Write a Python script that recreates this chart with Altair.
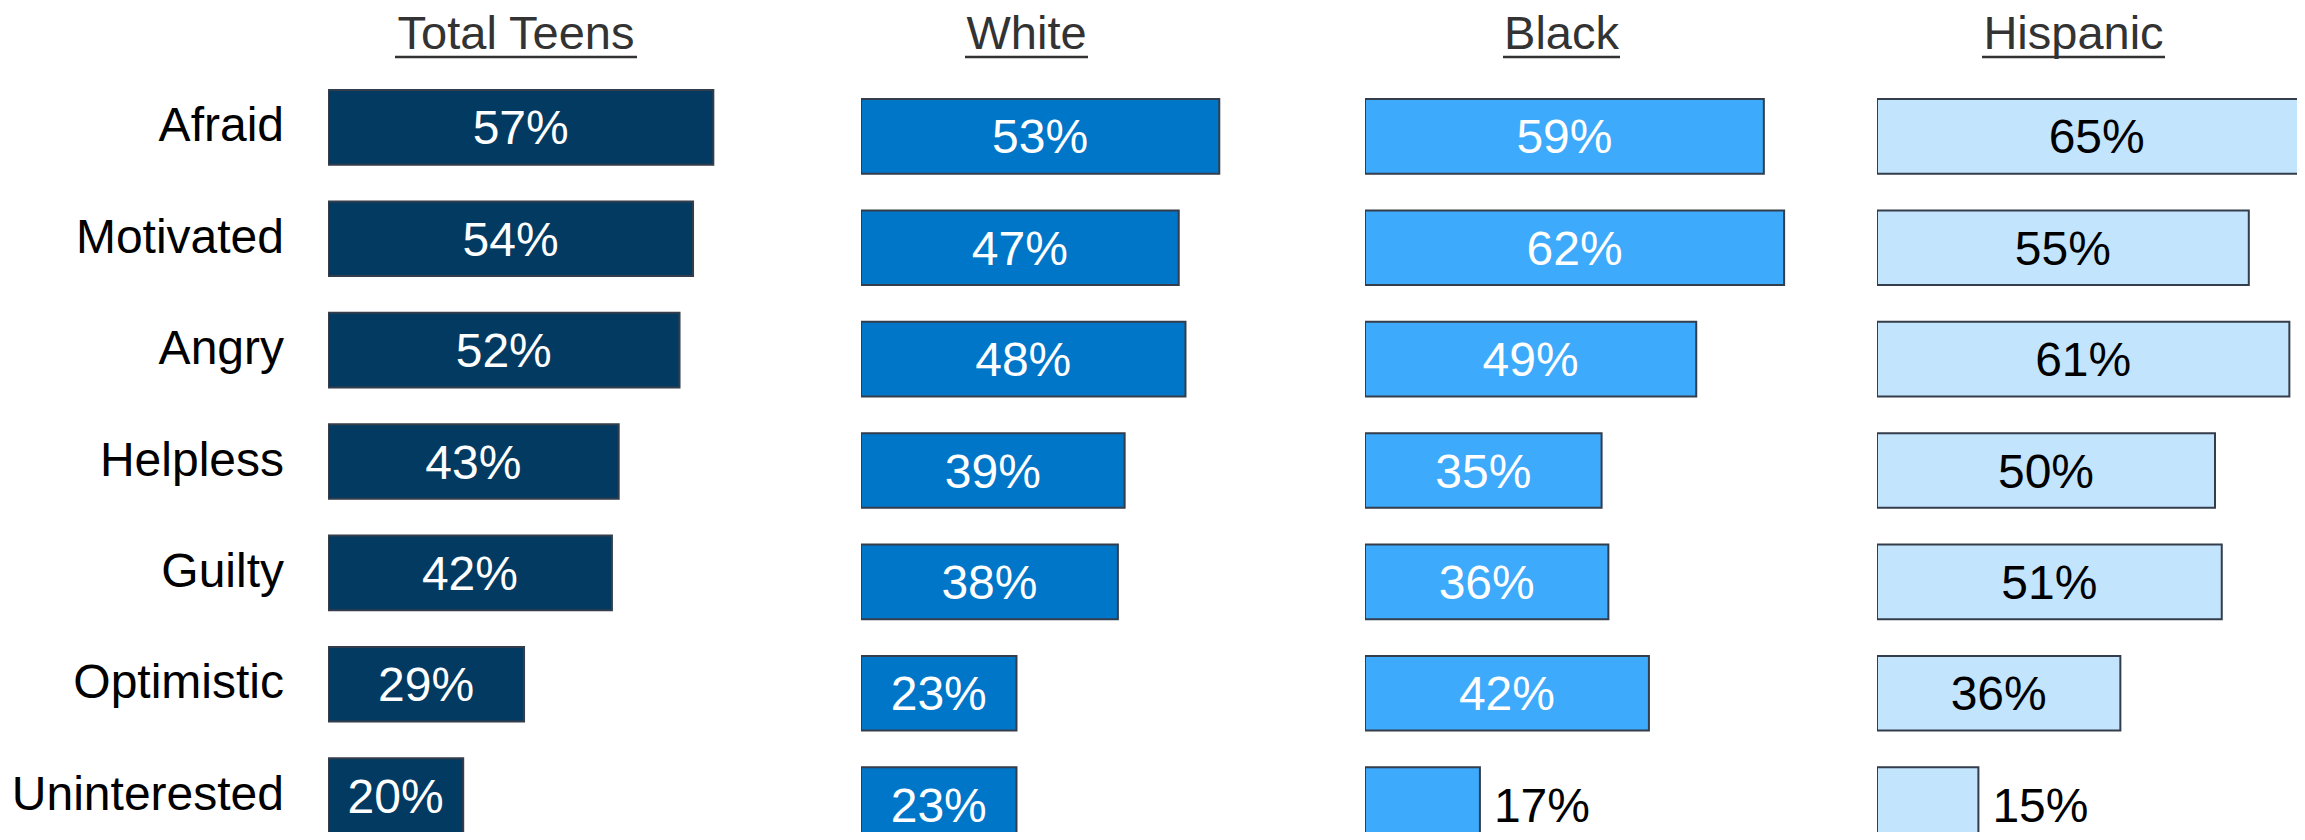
import altair as alt
import pandas as pd

# ---- data ----
emotions = ["Afraid", "Motivated", "Angry", "Helpless", "Guilty", "Optimistic", "Uninterested"]
groups = ["Total Teens", "White", "Black", "Hispanic"]
total_teens = [57, 54, 52, 43, 42, 29, 20]
white = [53, 47, 48, 39, 38, 23, 23]
black = [59, 62, 49, 35, 36, 42, 17]
hispanic = [65, 55, 61, 50, 51, 36, 15]
series = [total_teens, white, black, hispanic]

# ---- styling / layout ----
FONT = "Liberation Sans"
PX_PER_PCT = 6.76
PANEL_H = 824
ROW_SPAN = 743
fills = ["#023A62", "#0076C9", "#3DAAFB", "#C2E4FD"]
inside_colors = ["white", "white", "white", "black"]
panel_widths = [533, 504, 512, 420]
row_start = [82, 91, 91, 91]
header_x = [188, 165.5, 196.5, 196.5]
underline = [(67, 309), (104, 227), (138, 255), (105, 288)]
STROKE = "#343D4B"


def y_enc(start):
    return alt.Y(
        "emotion:N",
        sort=emotions,
        axis=None,
        scale=alt.Scale(type="band", range=[start, start + ROW_SPAN],
                        paddingInner=0.33, paddingOuter=0),
    )


def bar_panel(i):
    df = pd.DataFrame({"emotion": emotions, "value": series[i]})
    w = panel_widths[i]
    xscale = alt.Scale(domain=[0, w / PX_PER_PCT], nice=False, zero=True)
    y = y_enc(row_start[i])
    base = alt.Chart(df).transform_calculate(
        label="datum.value + '%'", mid="datum.value / 2"
    )
    bars = base.mark_bar(
        clip=True, fill=fills[i], stroke=STROKE, strokeWidth=2
    ).encode(x=alt.X("value:Q", axis=None, scale=xscale), y=y)
    inside = base.transform_filter("datum.value >= 20").mark_text(
        font=FONT, fontSize=48, color=inside_colors[i], align="center",
        baseline="middle", dy=3,
    ).encode(x=alt.X("mid:Q", axis=None, scale=xscale), y=y, text="label:N")
    outside = base.transform_filter("datum.value < 20").mark_text(
        font=FONT, fontSize=48, color="black", align="left",
        baseline="middle", dx=14, dy=3,
    ).encode(x=alt.X("value:Q", axis=None, scale=xscale), y=y, text="label:N")

    hdf = pd.DataFrame({"group": [groups[i]]})
    header = alt.Chart(hdf).mark_text(
        font=FONT, fontSize=47, color="#333333", align="center", baseline="alphabetic"
    ).encode(x=alt.value(header_x[i]), y=alt.value(41), text="group:N")
    rule = alt.Chart(hdf).mark_rule(color="#333333", strokeWidth=2.5).encode(
        x=alt.value(underline[i][0]), x2=alt.value(underline[i][1]), y=alt.value(49)
    )
    return alt.layer(bars, inside, outside, header, rule).properties(
        width=w, height=PANEL_H
    )


label_df = pd.DataFrame({"emotion": emotions})
labels = alt.Chart(label_df).mark_text(
    font=FONT, fontSize=48, color="black", align="right", baseline="middle", dy=0
).encode(x=alt.value(276), y=y_enc(row_start[0]), text="emotion:N").properties(
    width=320, height=PANEL_H
)

chart = alt.hconcat(
    labels, *[bar_panel(i) for i in range(4)], spacing=0
).configure_view(stroke=None).properties(padding=0, background="white")

chart.save("out.html", embed_options={"renderer": "svg", "actions": False})
